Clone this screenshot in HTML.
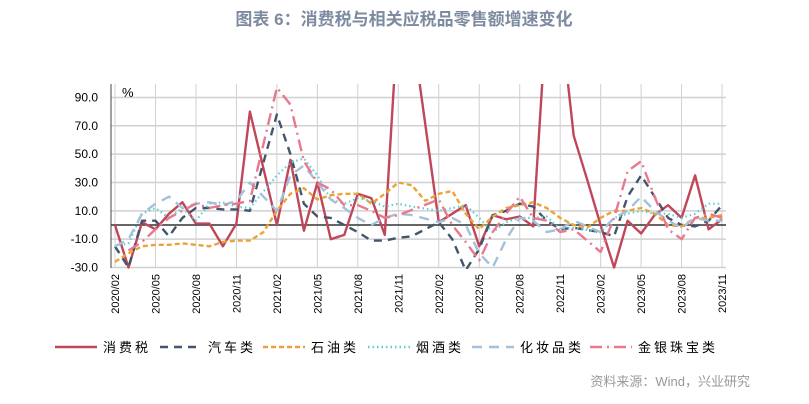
<!DOCTYPE html>
<html><head><meta charset="utf-8"><style>
body{margin:0;background:#fff;width:809px;height:404px;overflow:hidden;font-family:"Liberation Sans","Noto Sans CJK SC",sans-serif}
</style></head><body>
<svg width="809" height="404" style="position:absolute;left:0;top:0">
<text x="404" y="25" text-anchor="middle" font-size="17" font-weight="bold" fill="#7d8ba0" font-family="Liberation Sans, Noto Sans CJK SC, sans-serif">图表 6：消费税与相关应税品零售额增速变化</text>
<g id="grid"></g><g id="axes"></g>
<defs><clipPath id="clip"><rect x="100" y="84" width="640" height="185"/></clipPath></defs>
<g id="series" clip-path="url(#clip)"></g>
<text x="122" y="97" font-size="13" fill="#000">%</text>
<g id="legend"></g>
<text x="750" y="386" text-anchor="end" font-size="13" fill="#999" font-family="Liberation Sans, Noto Sans CJK SC, sans-serif">资料来源：Wind，兴业研究</text>
</svg>
<script>
const yTicks=[90,70,50,30,10,-10,-30];
const xLabels=["2020/02","2020/05","2020/08","2020/11","2021/02","2021/05","2021/08","2021/11","2022/02","2022/05","2022/08","2022/11","2023/02","2023/05","2023/08","2023/11"];
const seriesNames=["消费税","汽车类","石油类","烟酒类","化妆品类","金银珠宝类"];
const taxVals=[0,-30,2,-3,8,16,1,1,-15,1,80,null,0,46,-4,30,-10,-7,22,19,-7,150,140,null,2,8,14,-15,7,4,6,-1,150,150,63,32,0,-30,3,-6,7,14,5,35,-3,4];
const carVals=[-15,-30,3,3,-8,5,12,12,11,11,10,null,78,50,15,6,5,0,-5,-11,-11,-9,-8,null,2,-10,-32,-17,7,10,15,13,3,-3,-2,null,-5,-8,20,35,20,5,0,-1,3,14];
const oilVals=[-26,-20,-15,-14,-14,-13,-14,-15,-12,-11,-11,-5,10,22,26,18,21,22,22,15,22,30,28,17,22,24,8,-3,6,12,14,16,12,5,0,-2,5,10,10,12,8,0,-1,5,5,7];
const tobVals=[-15,-13,8,12,5,12,3,15,16,13,12,null,35,44,47,35,18,15,19,17,13,15,13,null,10,12,14,5,-5,2,5,5,6,-3,-2,null,-5,5,8,10,8,8,5,8,15,15];
const cosVals=[-15,-10,8,15,20,12,15,16,14,17,30,null,10,35,42,30,18,12,5,0,5,8,7,null,2,5,0,-20,-30,-10,5,3,-5,-3,3,null,-5,5,10,20,10,3,-2,5,3,3];
const jewVals=[null,-18,-12,-3,5,10,15,12,14,15,17,null,97,85,45,30,25,14,14,10,5,7,null,null,18,0,-12,-25,-5,8,20,5,3,-5,-3,null,-19,5,38,45,20,-3,-10,5,8,5];
const allSeries=[taxVals,carVals,oilVals,tobVals,cosVals,jewVals];
const styles=[{c:"#c0475a",w:2.4,d:""},{c:"#44546a",w:2.4,d:"8,6"},{c:"#eba336",w:2.4,d:"5,3"},{c:"#5ecfd1",w:2.2,d:"1.5,3"},{c:"#a5c0da",w:2.4,d:"10,7"},{c:"#e8798f",w:2.4,d:"12,5,2,5"}];
const NS="http://www.w3.org/2000/svg";
const X=i=>115+i*13.49, Y=v=>225-v*1.417;
const mk=(t,a,p)=>{const e=document.createElementNS(NS,t);for(const k in a)e.setAttribute(k,a[k]);p.appendChild(e);return e;};
const grid=document.getElementById('grid'),axes=document.getElementById('axes'),ser=document.getElementById('series'),leg=document.getElementById('legend');
yTicks.forEach(v=>{
 const l=mk('line',{x1:111,x2:726,y1:Y(v),y2:Y(v),stroke:"#d0d0d0","stroke-width":1.5},grid);
 
 
 const t=mk('text',{x:98,y:Y(v)+4,"text-anchor":"end","font-size":12,fill:"#000"},axes);
 t.textContent=v.toFixed(1);
 
 
});
xLabels.forEach((s,k)=>{
 const x=X(k*3);
 const l=mk('line',{x1:x,x2:x,y1:84,y2:268,stroke:"#d0d0d0","stroke-width":1},grid);
 
 
 const t=mk('text',{x:0,y:0,"text-anchor":"end","font-size":11,fill:"#000",transform:`translate(${x+4},274) rotate(-90)`},axes);
 t.textContent=s;
 
 
});
const ya=mk('line',{x1:111,x2:111,y1:84,y2:268,stroke:"#444","stroke-width":1},axes);


const za=mk('line',{x1:111,x2:726,y1:Y(0),y2:Y(0),stroke:"#333","stroke-width":1.5},axes);


allSeries.forEach((vals,si)=>{
 let d="",pen=false;
 vals.forEach((v,i)=>{if(v===null)return;d+=(pen?"L":"M")+X(i).toFixed(1)+","+Y(v).toFixed(1);pen=true;});
 const st=styles[si];
 const p=mk('path',{d:d,fill:"none",stroke:st.c,"stroke-width":st.w,"stroke-dasharray":st.d,"stroke-linejoin":"round"},ser);
 
 
});
const legX=[55,160,263,368,472,590];
seriesNames.forEach((n,si)=>{
 const st=styles[si],g=mk('g',{},leg);
 
 
 mk('line',{x1:legX[si],x2:legX[si]+42,y1:347,y2:347,stroke:st.c,"stroke-width":2.4,"stroke-dasharray":st.d},g);
 const t=mk('text',{x:legX[si]+48,y:352,"font-size":13,fill:"#000","letter-spacing":"3"},g);
 t.textContent=n;
});
</script>
</body></html>
